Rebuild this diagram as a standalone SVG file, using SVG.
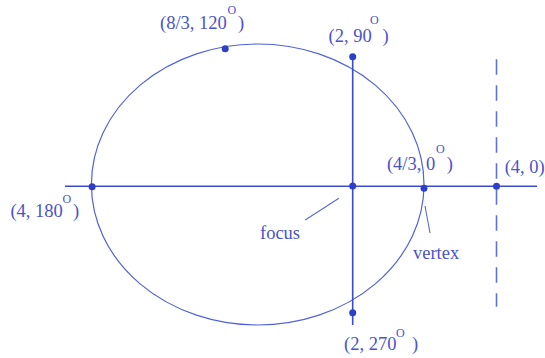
<svg xmlns="http://www.w3.org/2000/svg" width="545" height="358" viewBox="0 0 545 358">
<style>
text{font-family:'Liberation Serif','DejaVu Serif',serif;font-size:18.5px;fill:#4b53c9}
.deg{font-size:12px}
.ax{stroke:#3b4bd6;stroke-width:1.6;fill:none}
.ell{stroke:#5262d8;stroke-width:1.2;fill:none}
.lead{stroke:#5a68d8;stroke-width:1.1;fill:none}
.dash{stroke:#6070dc;stroke-width:1.6;stroke-dasharray:15.5 10.5;fill:none}
.dot{fill:#2f3ec6}
</style>
<rect width="545" height="358" fill="#ffffff"/>
<g id="ellipse"><ellipse class="ell" cx="257.7" cy="184.5" rx="166.3" ry="140.5"/></g>
<g id="connectors">
<line class="ax" x1="65" y1="186.3" x2="537" y2="186.3"/>
<line class="ax" x1="352.7" y1="56.7" x2="352.7" y2="325"/>
<line class="dash" x1="496.5" y1="59.3" x2="496.5" y2="306.7"/>
<line class="lead" x1="338.9" y1="198.3" x2="305.2" y2="220"/>
<line class="lead" x1="425" y1="206" x2="430" y2="233"/>
</g>
<g id="p120"><circle class="dot" cx="225.2" cy="48.7" r="3.5"/>
<text x="160" y="29.3" font-family="Liberation Serif, serif">(8/3, 120<tspan class="deg" x="227.6" y="14">O</tspan><tspan x="238" y="29.3">)</tspan></text></g>
<g id="p90"><circle class="dot" cx="352.7" cy="56.7" r="3.5"/>
<text x="328.5" y="41.7" font-family="Liberation Serif, serif">(2, 90<tspan class="deg" x="370" y="24">O</tspan><tspan x="382.5" y="41.7">)</tspan></text></g>
<g id="p0"><circle class="dot" cx="424" cy="188.3" r="3.5"/>
<text x="386.9" y="170" font-family="Liberation Serif, serif">(4/3, 0<tspan class="deg" x="436" y="153">O</tspan><tspan x="446.7" y="170">)</tspan></text></g>
<g id="directrix"><circle class="dot" cx="496.5" cy="186.3" r="3.5"/>
<text x="504.7" y="172.7" font-family="Liberation Serif, serif">(4, 0)</text></g>
<g id="p180"><circle class="dot" cx="92.1" cy="186.8" r="3.5"/>
<text x="10.4" y="216.7" font-family="Liberation Serif, serif">(4, 180<tspan class="deg" x="62.6" y="202.7">O</tspan><tspan x="73" y="216.7">)</tspan></text></g>
<g id="focus"><circle class="dot" cx="352.7" cy="186" r="3.5"/>
<text x="260" y="239.3" font-family="Liberation Serif, serif">focus</text></g>
<g id="vertex"><text x="413" y="259.3" font-family="Liberation Serif, serif">vertex</text></g>
<g id="p270"><circle class="dot" cx="352.7" cy="312.7" r="3.5"/>
<text x="344" y="350" font-family="Liberation Serif, serif">(2, 270<tspan class="deg" x="396" y="336.7">O</tspan><tspan x="412" y="350">)</tspan></text></g>
</svg>
